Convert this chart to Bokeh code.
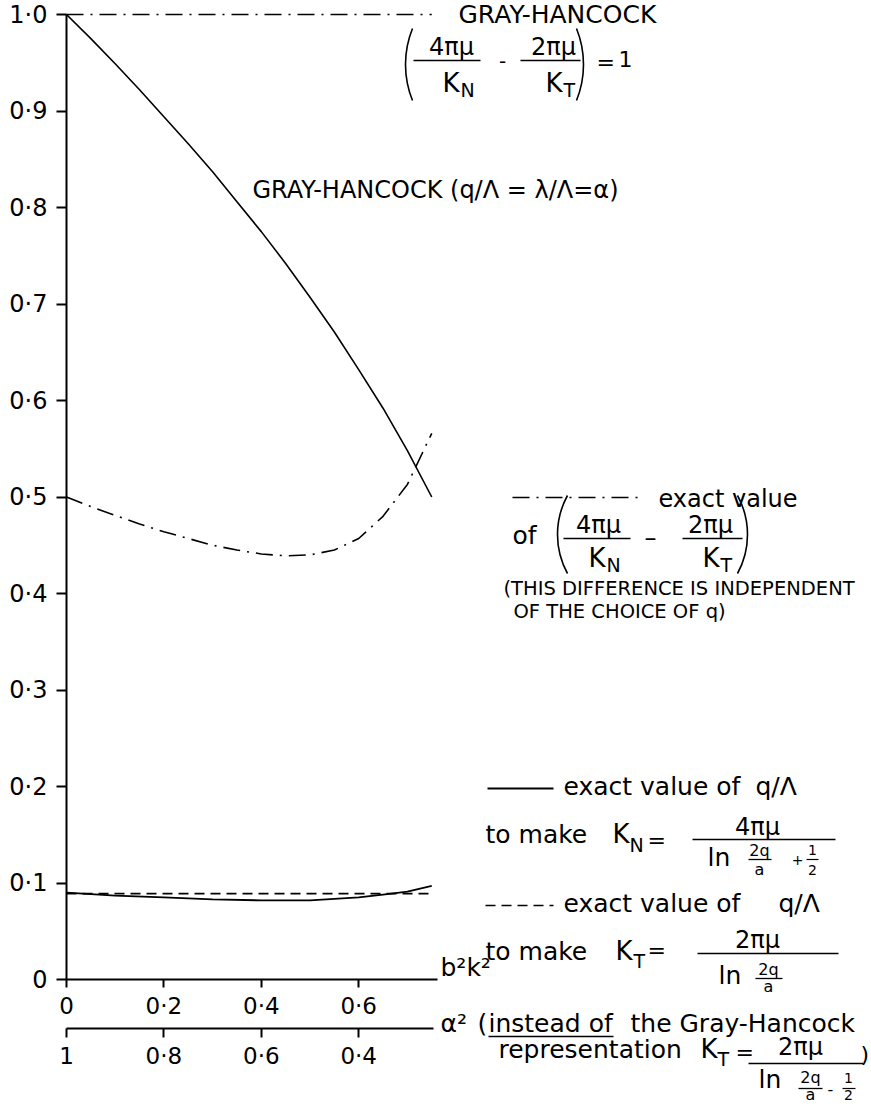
import math
from bokeh.plotting import figure
from bokeh.models import LinearAxis, FixedTicker, Range1d, Label
from bokeh.embed import file_html
from bokeh.resources import INLINE

# ---------------- DATA ----------------
y_ticks = [0, 0.1, 0.2, 0.3, 0.4, 0.5, 0.6, 0.7, 0.8, 0.9, 1.0]
y_tick_labels = ["0", "0·1", "0·2", "0·3", "0·4", "0·5", "0·6", "0·7", "0·8", "0·9", "1·0"]
bk_ticks = [0, 0.2, 0.4, 0.6]
bk_tick_labels = ["0", "0·2", "0·4", "0·6"]
alpha_tick_labels = ["1", "0·8", "0·6", "0·4"]

# Gray-Hancock constant difference (=1)
ghc_x = [0, 0.75]
ghc_y = [1.0, 1.0]

# Gray-Hancock q/Lambda = alpha
gh_x = [0, 0.05, 0.1, 0.15, 0.2, 0.25, 0.3, 0.35, 0.4, 0.45, 0.5, 0.55, 0.6, 0.65, 0.7, 0.75]
gh_y = [1.000, 0.975, 0.949, 0.922, 0.894, 0.866, 0.837, 0.806, 0.775, 0.742, 0.707, 0.671, 0.632, 0.592, 0.548, 0.500]

# exact value of (4 pi mu / K_N - 2 pi mu / K_T)
diff_x = [0, 0.05, 0.1, 0.15, 0.2, 0.25, 0.3, 0.35, 0.4, 0.45, 0.5, 0.55, 0.6, 0.65, 0.7, 0.75]
diff_y = [0.500, 0.490, 0.481, 0.472, 0.464, 0.457, 0.450, 0.445, 0.441, 0.439, 0.440, 0.445, 0.457, 0.480, 0.513, 0.566]

# exact q/Lambda for K_N (solid)
qn_x = [0, 0.1, 0.2, 0.3, 0.4, 0.5, 0.6, 0.65, 0.7, 0.75]
qn_y = [0.090, 0.087, 0.085, 0.083, 0.082, 0.082, 0.085, 0.088, 0.091, 0.097]

# exact q/Lambda for K_T (dashed)
qt_x = [0, 0.75]
qt_y = [0.089, 0.089]

# ---------------- LAYOUT ----------------
W, H = 871, 1107
X0, PXX = 66, 487.0     # pixel of x=0, pixels per unit x
Y0, PXY = 979, 965.0    # pixel of y=0, pixels per unit y
FONT = "DejaVu Sans"


def X(px):
    return (px - X0) / PXX


def Y(py):
    return (Y0 - py) / PXY


p = figure(width=W, height=H, output_backend="svg", toolbar_location=None,
           x_range=Range1d(X(0), X(W)), y_range=Range1d(Y(H), Y(0)),
           x_axis_location=None, y_axis_location=None,
           min_border_left=0, min_border_right=0,
           min_border_top=0, min_border_bottom=0)
p.outline_line_color = None
p.grid.grid_line_color = None
p.background_fill_color = "white"
p.border_fill_color = "white"


def style_axis(ax, tick_out, standoff, size):
    ax.axis_line_width = 2
    ax.axis_line_color = "black"
    ax.major_tick_line_width = 2
    ax.major_tick_line_color = "black"
    ax.major_tick_in = 0
    ax.major_tick_out = tick_out
    ax.minor_tick_line_color = None
    ax.major_label_standoff = standoff
    ax.major_label_text_font = FONT
    ax.major_label_text_font_size = size
    ax.major_label_text_color = "black"


yax = LinearAxis(fixed_location=0.0, ticker=FixedTicker(ticks=y_ticks),
                 major_label_overrides=dict(zip(y_ticks, y_tick_labels)),
                 bounds=(0, 1.0))
style_axis(yax, 10, 9, "24px")
p.add_layout(yax, "left")

ax1 = LinearAxis(fixed_location=0.0, ticker=FixedTicker(ticks=bk_ticks),
                 major_label_overrides=dict(zip(bk_ticks, bk_tick_labels)),
                 bounds=(0, 0.761))
style_axis(ax1, 8, 5, "23px")
p.add_layout(ax1, "below")

ax2 = LinearAxis(fixed_location=Y(1028), ticker=FixedTicker(ticks=bk_ticks),
                 major_label_overrides=dict(zip(bk_ticks, alpha_tick_labels)),
                 bounds=(0, 0.753))
style_axis(ax2, 9, 5, "23px")
p.add_layout(ax2, "below")

DASHDOT = "17 7 2 7"
DASHED = "10 6"

# ---------------- CURVES ----------------
p.line(ghc_x, ghc_y, line_color="black", line_width=1.6, line_dash=DASHDOT)
p.line(gh_x, gh_y, line_color="black", line_width=1.6)
p.line(diff_x, diff_y, line_color="black", line_width=1.6, line_dash=DASHDOT)
p.line(qn_x, qn_y, line_color="black", line_width=1.8)
p.line(qt_x, qt_y, line_color="black", line_width=1.6, line_dash=DASHED)


# ---------------- ANNOTATIONS ----------------
def txt(px, py, s, size=25, align="left", baseline="alphabetic"):
    # py is the text baseline in pixels (or the middle if baseline == "middle")
    if baseline == "alphabetic":
        py = py - 0.36 * size
    p.add_layout(Label(x=X(px), y=Y(py), text=s, text_font=FONT,
                       text_font_size=f"{size}px", text_align=align,
                       text_baseline="middle", text_color="black"))


def bar(x1, x2, py, lw=1.6, dash="solid"):
    p.line([X(x1), X(x2)], [Y(py), Y(py)], line_color="black", line_width=lw, line_dash=dash)


def paren(px_edge, py_top, py_bot, side, sag):
    h = (py_bot - py_top) / 2.0
    r = (h * h + sag * sag) / (2.0 * sag)
    th = math.asin(h / r)
    yc = (py_top + py_bot) / 2.0
    if side == "left":
        cx = px_edge + r
        a0, a1 = math.pi - th, math.pi + th
    else:
        cx = px_edge - r
        a0, a1 = -th, th
    p.arc(x=[X(cx)], y=[Y(yc)], radius=r, radius_units="screen",
          start_angle=a0, end_angle=a1, line_color="black", line_width=1.6)


# top: Gray-Hancock difference = 1
txt(458, 23, "GRAY-HANCOCK", 25)
paren(405, 28, 100, "left", 7)
txt(451, 55, "4πμ", 24, "center")
bar(413, 480, 60)
txt(442, 92, "K", 26)
txt(460, 96, "N", 19)
txt(502, 60, "-", 20, "center", "middle")
txt(553, 55, "2πμ", 24, "center")
bar(520, 580, 60)
txt(545, 92, "K", 26)
txt(563, 96, "T", 19)
paren(583, 28, 100, "right", 7)
txt(596, 62, "=", 22, "left", "middle")
txt(618, 66, "1", 22)

# Gray-Hancock curve label
txt(252, 198, "GRAY-HANCOCK (q/Λ = λ/Λ=α)", 24)

# exact difference legend
bar(512, 643, 497, 1.6, DASHDOT)
txt(658, 507, "exact value", 24)
txt(512, 544, "of", 25)
paren(557, 495, 573, "left", 10)
txt(598, 533, "4πμ", 24, "center")
bar(563, 630, 538)
txt(588, 567, "K", 26)
txt(606, 571, "N", 19)
txt(650, 537, "–", 24, "center", "middle")
txt(710, 533, "2πμ", 24, "center")
bar(682, 742, 538)
txt(702, 567, "K", 26)
txt(720, 571, "T", 19)
paren(747, 495, 573, "right", 10)
txt(503, 595, "(THIS DIFFERENCE IS INDEPENDENT", 19.5)
txt(513, 618, "OF THE CHOICE OF q)", 19.5)

# solid legend (K_N)
bar(487, 553, 788, 1.8)
txt(563, 795, "exact value of", 25)
txt(755, 795, "q/Λ", 25)
txt(485, 843, "to make", 25)
txt(612, 843, "K", 26)
txt(629, 851, "N", 19)
txt(647, 840, "=", 22, "left", "middle")
txt(757, 835, "4πμ", 24, "center")
bar(692, 835, 839)
txt(707, 866, "ln", 25)
txt(759, 856, "2q", 16, "center")
bar(748, 771, 859, 1.3)
txt(759, 875, "a", 16, "center")
txt(797, 859, "+", 14, "center", "middle")
txt(812, 855, "1", 14, "center")
bar(806, 818, 859, 1.2)
txt(812, 875, "2", 14, "center")

# dashed legend (K_T)
bar(485, 553, 905, 1.6, DASHED)
txt(563, 912, "exact value of", 25)
txt(778, 912, "q/Λ", 25)
txt(485, 960, "to make", 25)
txt(615, 960, "K", 26)
txt(633, 967, "T", 19)
txt(647, 950, "=", 22, "left", "middle")
txt(757, 948, "2πμ", 24, "center")
bar(697, 838, 953)
txt(718, 984, "ln", 25)
txt(768, 975, "2q", 16, "center")
bar(755, 782, 978, 1.3)
txt(768, 992, "a", 16, "center")

# axis names and Gray-Hancock representation
txt(440, 976, "b²k²", 25)
txt(440, 1032, "α²", 25)
txt(477, 1032, "(", 25)
txt(488, 1032, "instead of", 25)
bar(488, 613, 1036, 1.4)
txt(630, 1032, "the Gray-Hancock", 25)
txt(498, 1058, "representation", 25)
txt(700, 1058, "K", 26)
txt(717, 1065, "T", 19)
txt(735, 1052, "=", 22, "left", "middle")
txt(800, 1055, "2πμ", 24, "center")
bar(748, 863, 1063)
txt(758, 1088, "ln", 25)
txt(810, 1083, "2q", 16, "center")
bar(798, 822, 1088, 1.3)
txt(810, 1100, "a", 16, "center")
txt(830, 1088, "-", 16, "center", "middle")
txt(848, 1083, "1", 14, "center")
bar(842, 855, 1088, 1.2)
txt(848, 1100, "2", 14, "center")
txt(860, 1062, ")", 22)

open("out.html", "w").write(file_html(p, INLINE))
